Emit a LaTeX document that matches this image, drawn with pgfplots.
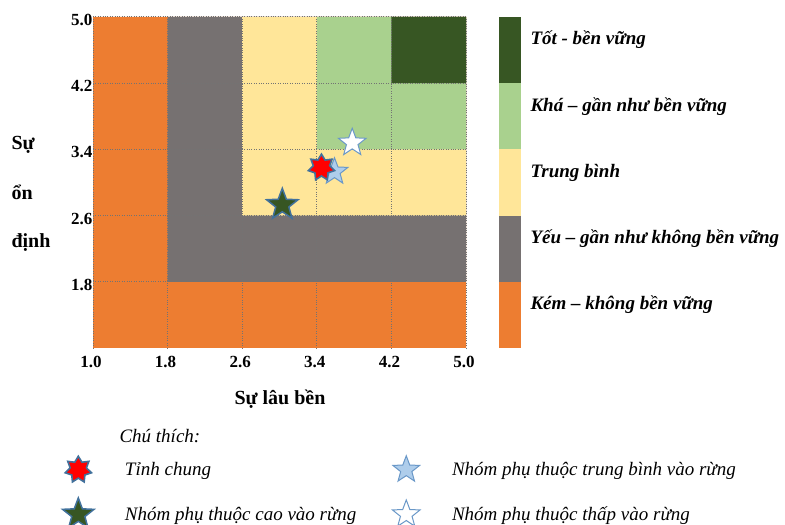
\documentclass[border=0pt]{standalone}
\usepackage{pgfplots}
\pgfplotsset{compat=1.18}
\usepackage{fontspec}
\setmainfont{Liberation Serif}

\definecolor{kem}{HTML}{ED7D31}
\definecolor{yeu}{HTML}{767171}
\definecolor{tb}{HTML}{FFE699}
\definecolor{kha}{HTML}{A9D18E}
\definecolor{tot}{HTML}{375623}
\definecolor{vien}{HTML}{41719C}
\definecolor{vienmo}{HTML}{6A98C8}
\definecolor{xanhnhat}{HTML}{AECDEB}

% filled 5-point star
\pgfdeclareplotmark{sao5}{%
  \pgfpathmoveto{\pgfpointpolar{90}{\pgfplotmarksize}}%
  \pgfpathlineto{\pgfpointpolar{126}{0.42\pgfplotmarksize}}%
  \pgfpathlineto{\pgfpointpolar{162}{\pgfplotmarksize}}%
  \pgfpathlineto{\pgfpointpolar{198}{0.42\pgfplotmarksize}}%
  \pgfpathlineto{\pgfpointpolar{234}{\pgfplotmarksize}}%
  \pgfpathlineto{\pgfpointpolar{270}{0.42\pgfplotmarksize}}%
  \pgfpathlineto{\pgfpointpolar{306}{\pgfplotmarksize}}%
  \pgfpathlineto{\pgfpointpolar{342}{0.42\pgfplotmarksize}}%
  \pgfpathlineto{\pgfpointpolar{18}{\pgfplotmarksize}}%
  \pgfpathlineto{\pgfpointpolar{54}{0.42\pgfplotmarksize}}%
  \pgfpathclose
  \pgfusepathqfillstroke}

% filled 7-point star
\pgfdeclareplotmark{sao7}{%
  \pgfpathmoveto{\pgfpointpolar{90}{\pgfplotmarksize}}%
  \pgfpathlineto{\pgfpointpolar{115.71}{0.62\pgfplotmarksize}}%
  \pgfpathlineto{\pgfpointpolar{141.43}{\pgfplotmarksize}}%
  \pgfpathlineto{\pgfpointpolar{167.14}{0.62\pgfplotmarksize}}%
  \pgfpathlineto{\pgfpointpolar{192.86}{\pgfplotmarksize}}%
  \pgfpathlineto{\pgfpointpolar{218.57}{0.62\pgfplotmarksize}}%
  \pgfpathlineto{\pgfpointpolar{244.29}{\pgfplotmarksize}}%
  \pgfpathlineto{\pgfpointpolar{270}{0.62\pgfplotmarksize}}%
  \pgfpathlineto{\pgfpointpolar{295.71}{\pgfplotmarksize}}%
  \pgfpathlineto{\pgfpointpolar{321.43}{0.62\pgfplotmarksize}}%
  \pgfpathlineto{\pgfpointpolar{347.14}{\pgfplotmarksize}}%
  \pgfpathlineto{\pgfpointpolar{12.86}{0.62\pgfplotmarksize}}%
  \pgfpathlineto{\pgfpointpolar{38.57}{\pgfplotmarksize}}%
  \pgfpathlineto{\pgfpointpolar{64.29}{0.62\pgfplotmarksize}}%
  \pgfpathclose
  \pgfusepathqfillstroke}

\pgfplotsset{
  tinhchung/.style={only marks, mark=sao7, mark size=13.5pt,
    mark options={fill=red, draw=vien, line width=1.6pt}},
  trungbinh/.style={only marks, mark=sao5, mark size=14pt,
    mark options={fill=xanhnhat, draw=vienmo, line width=1pt}},
  cao/.style={only marks, mark=sao5, mark size=16.5pt,
    mark options={fill=tot, draw=vien, line width=1.5pt}},
  thap/.style={only marks, mark=sao5, mark size=14.5pt,
    mark options={fill=white, draw=vienmo, line width=1pt}},
}

\begin{document}
\begin{tikzpicture}
\useasboundingbox (0pt,0pt) rectangle (785pt,525pt);

\begin{axis}[
    at={(93pt,177pt)}, anchor=south west,
    width=373pt, height=331pt, scale only axis,
    xmin=1, xmax=5, ymin=1, ymax=5,
    xtick={1,1.8,2.6,3.4,4.2,5},
    ytick={1.8,2.6,3.4,4.2,5},
    /pgf/number format/assume math mode=true,
    /pgf/number format/fixed,
    /pgf/number format/fixed zerofill,
    /pgf/number format/precision=1,
    tick label style={font=\bfseries\fontsize{17}{19}\selectfont},
    xticklabel style={yshift=-5pt, xshift=-2pt},
    yticklabel style={xshift=3pt, yshift=-3pt},
    axis line style={draw=none},
    major tick length=0pt,
    grid=major,
    major grid style={dotted, line width=1pt, black!55},
    axis on top,
    clip=false,
    legend columns=2,
    legend cell align=left,
    legend style={draw=none, fill=none, inner sep=0pt,
        at={(axis description cs:-0.082,-0.325)}, anchor=north west,
        font=\itshape\fontsize{19}{21}\selectfont,
        row sep=16pt,
        /tikz/column 1/.style={column sep=29pt},
        /tikz/column 2/.style={column sep=34pt},
        /tikz/column 3/.style={column sep=30pt}},
  ]
% vung phan loai
\addplot[forget plot, draw=none, fill=kem] coordinates {(1,1) (5,1) (5,5) (1,5) (1,1)};
\addplot[forget plot, draw=none, fill=yeu] coordinates {(1.8,1.8) (5,1.8) (5,5) (1.8,5) (1.8,1.8)};
\addplot[forget plot, draw=none, fill=tb] coordinates {(2.6,2.6) (5,2.6) (5,5) (2.6,5) (2.6,2.6)};
\addplot[forget plot, draw=none, fill=kha] coordinates {(3.4,3.4) (5,3.4) (5,5) (3.4,5) (3.4,3.4)};
\addplot[forget plot, draw=none, fill=tot] coordinates {(4.2,4.2) (5,4.2) (5,5) (4.2,5) (4.2,4.2)};

% cac nhom
\addplot[forget plot, trungbinh] coordinates {(3.59,3.13)};
\addplot[forget plot, cao] coordinates {(3.03,2.73)};
\addplot[forget plot, thap] coordinates {(3.78,3.48)};
\addplot[forget plot, tinhchung] coordinates {(3.45,3.18)};

\addlegendimage{tinhchung}
\addlegendentry{Tỉnh chung}
\addlegendimage{trungbinh}
\addlegendentry{Nhóm phụ thuộc trung bình vào rừng}
\addlegendimage{cao}
\addlegendentry{Nhóm phụ thuộc cao vào rừng}
\addlegendimage{thap}
\addlegendentry{Nhóm phụ thuộc thấp vào rừng}
\end{axis}

% thang mau
\begin{axis}[
    at={(499pt,177pt)}, anchor=south west,
    width=22pt, height=331pt, scale only axis,
    ybar stacked, bar width=22pt,
    xmin=0.5, xmax=1.5, ymin=0, ymax=4,
    axis line style={draw=none},
    major tick length=0pt,
    xtick=\empty,
    ytick={0.4,1.2,2,2.8,3.6},
    yticklabels={Kém – không bền vững, Yếu – gần như không bền vững, Trung bình, Khá – gần như bền vững, Tốt - bền vững},
    yticklabel pos=right,
    yticklabel style={anchor=west, xshift=6pt, yshift=10pt,
        font=\bfseries\itshape\fontsize{19}{21}\selectfont},
  ]
\addplot[draw=none, fill=kem] coordinates {(1,0.8)};
\addplot[draw=none, fill=yeu] coordinates {(1,0.8)};
\addplot[draw=none, fill=tb] coordinates {(1,0.8)};
\addplot[draw=none, fill=kha] coordinates {(1,0.8)};
\addplot[draw=none, fill=tot] coordinates {(1,0.8)};
\end{axis}

\begin{scope}[font=\bfseries\fontsize{20}{22}\selectfont]
\node[anchor=base west] at (8pt,375pt) {Sự};
\node[anchor=base west] at (8pt,325pt) {ổn};
\node[anchor=base west] at (8pt,277pt) {định};
\node[anchor=base] at (280pt,120pt) {Sự lâu bền};
\end{scope}
\node[anchor=base west, font=\itshape\fontsize{19}{21}\selectfont] at (116pt,82pt) {Chú thích:};
\end{tikzpicture}
\end{document}
